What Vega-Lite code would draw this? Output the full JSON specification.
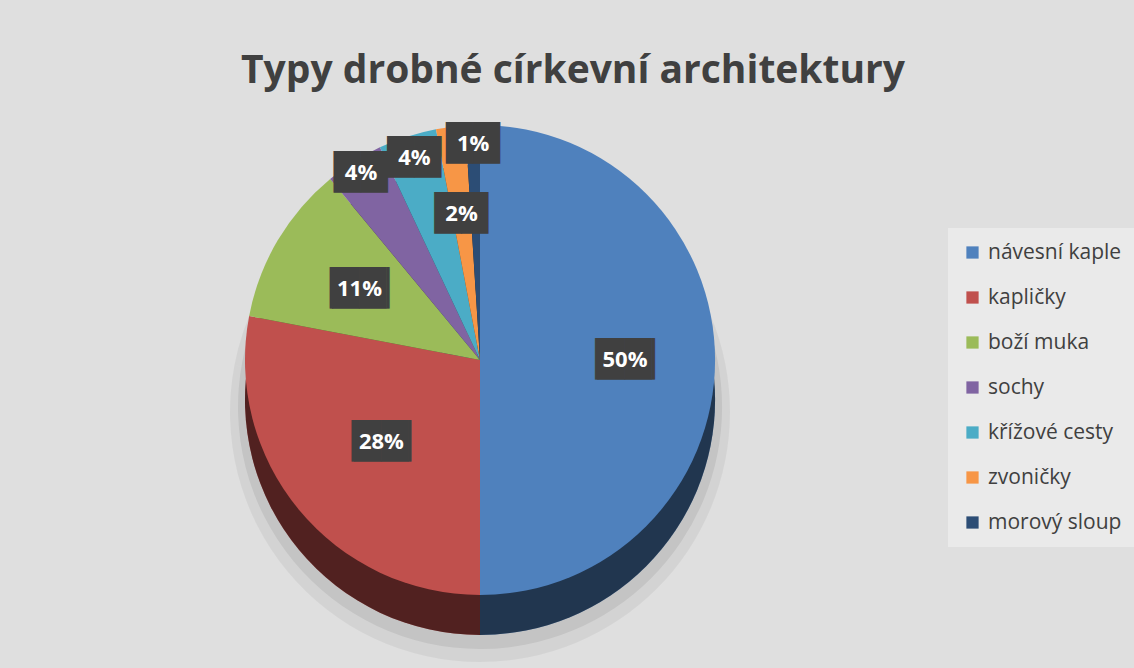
{
  "$schema": "https://vega.github.io/schema/vega-lite/v6.json",
  "autosize": {"type": "none"},
  "width": 940,
  "height": 500,
  "padding": {"left": 10, "top": 110, "right": 184, "bottom": 58},
  "background": "#dfdfdf",
  "title": {
    "text": "Typy drobné církevní architektury",
    "font": "Open Sans",
    "fontSize": 39,
    "fontWeight": "bold",
    "color": "#404040",
    "anchor": "middle",
    "frame": "bounds",
    "offset": 19
  },
  "data": {
    "values": [
      {"kategorie": "návesní kaple", "podil": 0.50, "poradi": 1},
      {"kategorie": "kapličky", "podil": 0.28, "poradi": 2},
      {"kategorie": "boží muka", "podil": 0.11, "poradi": 3},
      {"kategorie": "sochy", "podil": 0.04, "poradi": 4},
      {"kategorie": "křížové cesty", "podil": 0.04, "poradi": 5},
      {"kategorie": "zvoničky", "podil": 0.02, "poradi": 6},
      {"kategorie": "morový sloup", "podil": 0.01, "poradi": 7}
    ]
  },
  "encoding": {
    "theta": {"field": "podil", "type": "quantitative", "stack": true},
    "order": {"field": "poradi", "type": "quantitative"}
  },
  "layer": [
    {"mark": {"type": "arc", "outerRadius": 250, "yOffset": 52, "fill": "#000000", "opacity": 0.05}},
    {"mark": {"type": "arc", "outerRadius": 242, "yOffset": 47, "fill": "#000000", "opacity": 0.07}},
    {
      "mark": {"type": "arc", "outerRadius": 235, "yOffset": 40},
      "encoding": {
        "color": {
          "field": "kategorie", "type": "nominal", "sort": null,
          "scale": {"range": ["#4f81bd", "#c0504d", "#9bbb59", "#8064a2", "#4bacc6", "#f79646", "#2c4d75"]}
        }
      }
    },
    {"mark": {"type": "arc", "outerRadius": 235, "yOffset": 40, "fill": "#000000", "opacity": 0.58}},
    {
      "mark": {"type": "arc", "outerRadius": 235},
      "encoding": {
        "color": {
          "field": "kategorie", "type": "nominal", "sort": null,
          "scale": {"range": ["#4f81bd", "#c0504d", "#9bbb59", "#8064a2", "#4bacc6", "#f79646", "#2c4d75"]},
          "legend": {
            "orient": "none", "legendX": 938, "legendY": 118,
            "title": null, "fillColor": "#eaeaea", "padding": 14,
            "labelFont": "Open Sans", "labelFontSize": 21, "labelColor": "#404040",
            "symbolType": "square", "symbolSize": 150, "symbolStrokeWidth": 0,
            "rowPadding": 23, "labelOffset": 5
          }
        }
      }
    },
    {
      "mark": {"type": "text", "radius": 145, "font": "DejaVu Sans", "fontSize": 35, "fill": "#404040", "align": "center", "baseline": "middle", "text": "▕██▏"},
      "encoding": {"opacity": {"condition": {"test": "datum.kategorie == 'návesní kaple'", "value": 1}, "value": 0}}
    },
    {
      "mark": {"type": "text", "radius": 145, "font": "Open Sans", "fontSize": 22, "fontWeight": "bold", "fill": "#ffffff", "align": "center", "baseline": "middle"},
      "encoding": {
        "text": {"field": "podil", "type": "quantitative", "format": ".0%"},
        "opacity": {"condition": {"test": "datum.kategorie == 'návesní kaple'", "value": 1}, "value": 0}
      }
    },
    {
      "mark": {"type": "text", "radius": 128, "font": "DejaVu Sans", "fontSize": 35, "fill": "#404040", "align": "center", "baseline": "middle", "text": "▕██▏"},
      "encoding": {"opacity": {"condition": {"test": "datum.kategorie == 'kapličky'", "value": 1}, "value": 0}}
    },
    {
      "mark": {"type": "text", "radius": 128, "font": "Open Sans", "fontSize": 22, "fontWeight": "bold", "fill": "#ffffff", "align": "center", "baseline": "middle"},
      "encoding": {
        "text": {"field": "podil", "type": "quantitative", "format": ".0%"},
        "opacity": {"condition": {"test": "datum.kategorie == 'kapličky'", "value": 1}, "value": 0}
      }
    },
    {
      "mark": {"type": "text", "radius": 140, "font": "DejaVu Sans", "fontSize": 35, "fill": "#404040", "align": "center", "baseline": "middle", "text": "▕██▏"},
      "encoding": {"opacity": {"condition": {"test": "datum.kategorie == 'boží muka'", "value": 1}, "value": 0}}
    },
    {
      "mark": {"type": "text", "radius": 140, "font": "Open Sans", "fontSize": 22, "fontWeight": "bold", "fill": "#ffffff", "align": "center", "baseline": "middle"},
      "encoding": {
        "text": {"field": "podil", "type": "quantitative", "format": ".0%"},
        "opacity": {"condition": {"test": "datum.kategorie == 'boží muka'", "value": 1}, "value": 0}
      }
    },
    {
      "mark": {"type": "text", "radius": 222, "font": "DejaVu Sans", "fontSize": 35, "fill": "#404040", "align": "center", "baseline": "middle", "text": "██"},
      "encoding": {"opacity": {"condition": {"test": "datum.kategorie == 'sochy'", "value": 1}, "value": 0}}
    },
    {
      "mark": {"type": "text", "radius": 222, "font": "Open Sans", "fontSize": 22, "fontWeight": "bold", "fill": "#ffffff", "align": "center", "baseline": "middle"},
      "encoding": {
        "text": {"field": "podil", "type": "quantitative", "format": ".0%"},
        "opacity": {"condition": {"test": "datum.kategorie == 'sochy'", "value": 1}, "value": 0}
      }
    },
    {
      "mark": {"type": "text", "radius": 212, "font": "DejaVu Sans", "fontSize": 35, "fill": "#404040", "align": "center", "baseline": "middle", "text": "██"},
      "encoding": {"opacity": {"condition": {"test": "datum.kategorie == 'křížové cesty'", "value": 1}, "value": 0}}
    },
    {
      "mark": {"type": "text", "radius": 212, "font": "Open Sans", "fontSize": 22, "fontWeight": "bold", "fill": "#ffffff", "align": "center", "baseline": "middle"},
      "encoding": {
        "text": {"field": "podil", "type": "quantitative", "format": ".0%"},
        "opacity": {"condition": {"test": "datum.kategorie == 'křížové cesty'", "value": 1}, "value": 0}
      }
    },
    {
      "mark": {"type": "text", "radius": 147, "font": "DejaVu Sans", "fontSize": 35, "fill": "#404040", "align": "center", "baseline": "middle", "text": "██"},
      "encoding": {"opacity": {"condition": {"test": "datum.kategorie == 'zvoničky'", "value": 1}, "value": 0}}
    },
    {
      "mark": {"type": "text", "radius": 147, "font": "Open Sans", "fontSize": 22, "fontWeight": "bold", "fill": "#ffffff", "align": "center", "baseline": "middle"},
      "encoding": {
        "text": {"field": "podil", "type": "quantitative", "format": ".0%"},
        "opacity": {"condition": {"test": "datum.kategorie == 'zvoničky'", "value": 1}, "value": 0}
      }
    },
    {
      "mark": {"type": "text", "radius": 216, "font": "DejaVu Sans", "fontSize": 35, "fill": "#404040", "align": "center", "baseline": "middle", "text": "██"},
      "encoding": {"opacity": {"condition": {"test": "datum.kategorie == 'morový sloup'", "value": 1}, "value": 0}}
    },
    {
      "mark": {"type": "text", "radius": 216, "font": "Open Sans", "fontSize": 22, "fontWeight": "bold", "fill": "#ffffff", "align": "center", "baseline": "middle"},
      "encoding": {
        "text": {"field": "podil", "type": "quantitative", "format": ".0%"},
        "opacity": {"condition": {"test": "datum.kategorie == 'morový sloup'", "value": 1}, "value": 0}
      }
    }
  ]
}
